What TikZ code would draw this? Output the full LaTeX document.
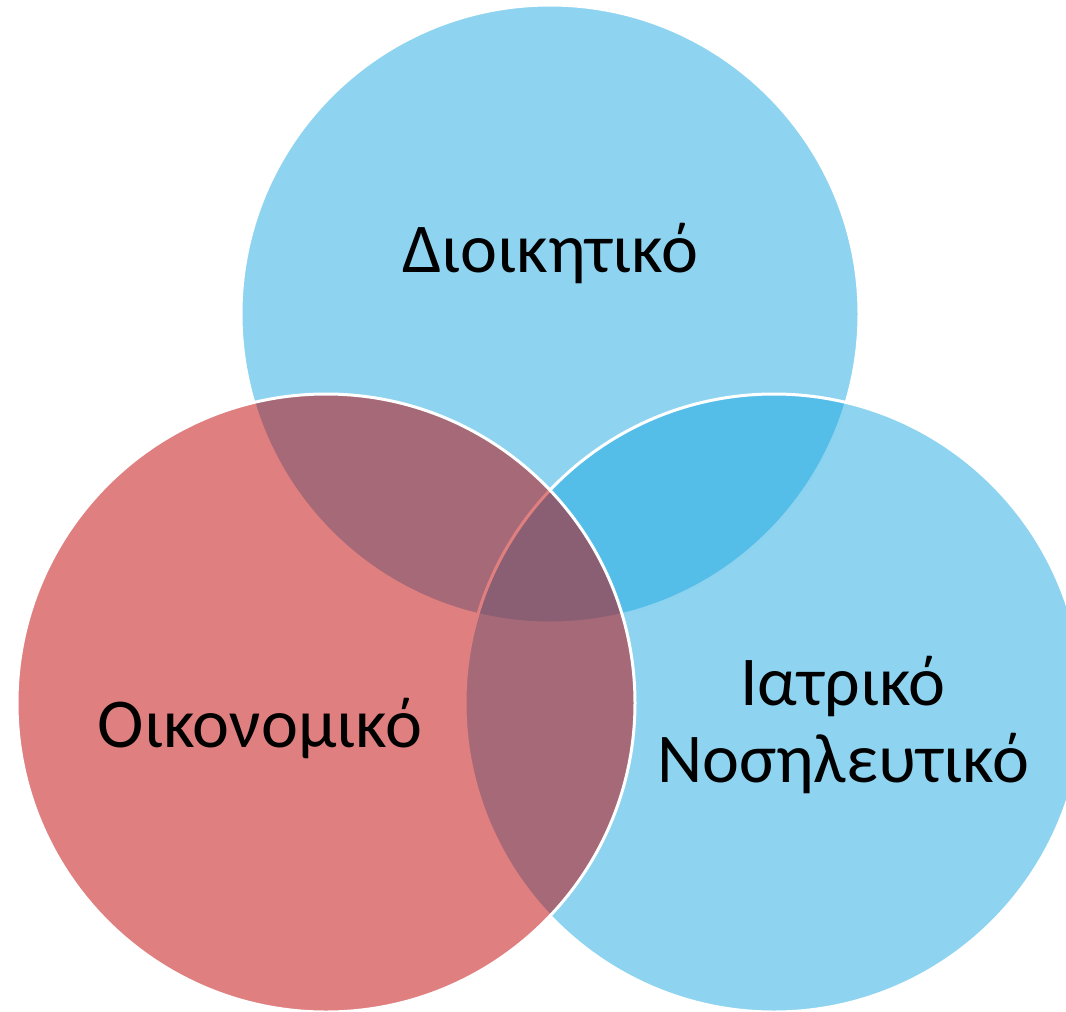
\documentclass[tikz,border=0pt]{standalone}
\usepackage{fontspec}
\setmainfont{Carlito}

\definecolor{vennblue}{RGB}{29,169,225}
\definecolor{vennred}{RGB}{192,0,0}

\tikzset{
    venn/.style={draw=white, line width=3pt, fill opacity=0.5},
    label/.style={text=black, inner sep=0pt, font=\fontsize{70}{77}\selectfont}
}

\begin{document}
\begin{tikzpicture}[x=1pt, y=-1pt]

    \useasboundingbox (0,0) rectangle (1066,1012);
    \clip (0,0) rectangle (1066,1012);

    %Circles
    \coordinate (admin) at (550, 314);
    \coordinate (medical) at (774, 703);
    \coordinate (finance) at (326, 703);

    \draw[venn, fill=vennblue] (admin) circle (309);
    \draw[venn, fill=vennblue] (medical) circle (309);
    \draw[venn, fill=vennred] (finance) circle (309);

    %Labels
    \node[label, anchor=base] (adminlabel) at (550, 272) {Διοικητικό};
    \node[label, anchor=base] (financelabel) at (260, 747) {Οικονομικό};
    \node[label, anchor=base, align=center] (medicallabel) at (843, 782) {Ιατρικό\\Νοσηλευτικό};

\end{tikzpicture}
\end{document}
